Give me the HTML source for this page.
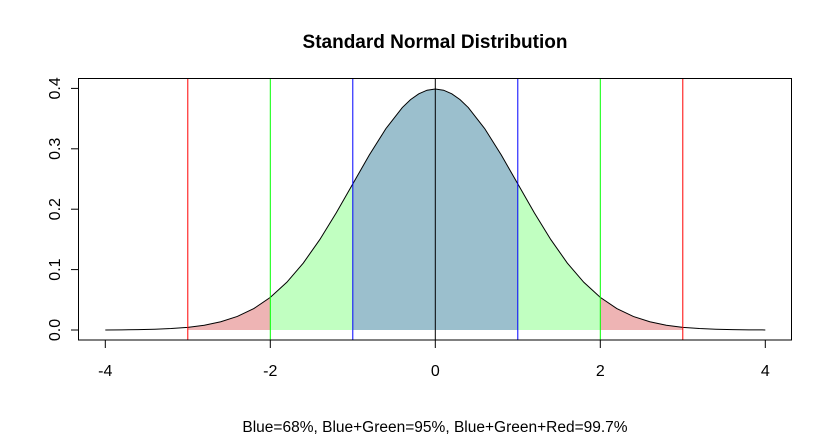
<!DOCTYPE html>
<html><head><meta charset="utf-8"><style>
body{margin:0;background:#fff}
svg text{font-family:"Liberation Sans",Arial,sans-serif}
</style></head><body>
<svg id="c" width="832" height="438" viewBox="0 0 832 438">
<text x="435" y="48" text-anchor="middle" font-size="19" font-weight="bold">Standard Normal Distribution</text>
<text x="435" y="432" text-anchor="middle" font-size="15.5">Blue=68%, Blue+Green=95%, Blue+Green+Red=99.7%</text>
<g id="plot"></g>
</svg>
<script>
const xs=[-4,-3.8,-3.6,-3.4,-3.2,-3,-2.8,-2.6,-2.4,-2.2,-2,-1.8,-1.6,-1.4,-1.2,-1,-0.8,-0.6,-0.4,-0.3,-0.2,-0.1,0,0.1,0.2,0.3,0.4,0.6,0.8,1,1.2,1.4,1.6,1.8,2,2.2,2.4,2.6,2.8,3,3.2,3.4,3.6,3.8,4];
const ys=[0.0001,0.0003,0.0006,0.0012,0.0024,0.0044,0.0079,0.0136,0.0224,0.0355,0.054,0.079,0.1109,0.1497,0.1942,0.242,0.2897,0.3332,0.3683,0.3814,0.391,0.397,0.3989,0.397,0.391,0.3814,0.3683,0.3332,0.2897,0.242,0.1942,0.1497,0.1109,0.079,0.054,0.0355,0.0224,0.0136,0.0079,0.0044,0.0024,0.0012,0.0006,0.0003,0.0001];
const xTicks=[-4,-2,0,2,4];
const yTicks=[0.0,0.1,0.2,0.3,0.4];
const bands=[[-3,-2,'#eeb4b4'],[2,3,'#eeb4b4'],[-2,-1,'#c1ffc1'],[1,2,'#c1ffc1'],[-1,1,'#9bbfcd']];
const vlines=[[-3,'red'],[3,'red'],[-2,'#00ff00'],[2,'#00ff00'],[-1,'blue'],[1,'blue'],[0,'black']];
const X=v=>435.3+v*82.5, Y=v=>330-v*604;
const g=document.getElementById('plot'),NS='http://www.w3.org/2000/svg';
function mk(t,a){const e=document.createElementNS(NS,t);for(const k in a)e.setAttribute(k,a[k]);g.appendChild(e);return e;}
bands.forEach(b=>{
 let pts=[];xs.forEach((x,i)=>{if(x>=b[0]-1e-9&&x<=b[1]+1e-9)pts.push(X(x)+','+Y(ys[i]));});
 pts.push(X(b[1])+','+Y(0));pts.push(X(b[0])+','+Y(0));
 const e=mk('polygon',{points:pts.join(' '),fill:b[2]});
 
 
});
const cur=mk('polyline',{points:xs.map((x,i)=>X(x)+','+Y(ys[i])).join(' '),fill:'none',stroke:'#000','stroke-width':1});


vlines.forEach(v=>{
 const e=mk('line',{x1:X(v[0]),x2:X(v[0]),y1:78,y2:340,stroke:v[1],'stroke-width':1});
 
 
});
const box=mk('rect',{x:78.5,y:78.5,width:713,height:261.5,fill:'none',stroke:'#000','stroke-width':1});


xTicks.forEach(t=>{
 const l=mk('line',{x1:X(t),x2:X(t),y1:340,y2:348,stroke:'#000'});
 
 
 const tx=mk('text',{x:X(t),y:376,'text-anchor':'middle','font-size':16});tx.textContent=t;
 
 
});
yTicks.forEach(t=>{
 const l=mk('line',{x1:71,x2:78,y1:Y(t),y2:Y(t),stroke:'#000'});
 
 
 const tx=mk('text',{x:0,y:0,'text-anchor':'middle','font-size':16,transform:`translate(60,${Y(t)}) rotate(-90)`});tx.textContent=t.toFixed(1);
 
 
});
</script>
</body></html>
